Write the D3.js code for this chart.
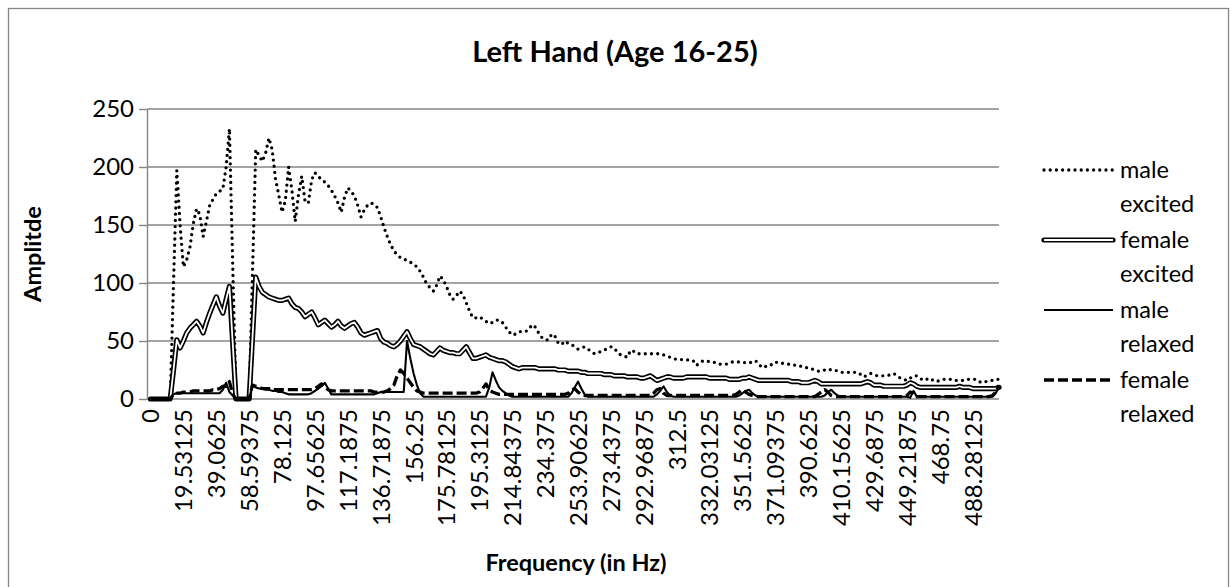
<!DOCTYPE html>
<html>
<head>
<meta charset="utf-8">
<script src="https://cdn.jsdelivr.net/npm/d3@7"></script>
<style>
  body { margin: 0; background: #fff; }
  svg text { font-family: Lato, "Open Sans", sans-serif; fill: #000; }
</style>
</head>
<body>
<svg id="chart" width="1231" height="587"></svg>
<script>
// frequency bins, 1.953125 Hz apart, one value per bin
const binHz = 1.953125;

const maleExcited = [
  0, 0, 0, 0, 0, 0, 0, 100, 197, 150,
  114, 120, 131, 151, 164, 159, 140, 153, 167, 172,
  177, 179, 181, 200, 233, 116, 0, 0, 0, 0,
  0, 107, 215, 210, 205, 212, 225, 215, 190, 176,
  161, 171, 200, 180, 153, 176, 192, 170, 169, 189,
  195, 192, 189, 187, 184, 180, 175, 169, 161, 174,
  182, 179, 175, 167, 157, 163, 167, 169, 168, 165,
  157, 148, 140, 133, 128, 124, 122, 121, 119, 118,
  116, 114, 110, 105, 99, 96, 93, 98, 106, 103,
  97, 90, 86, 89, 93, 90, 83, 76, 70, 70,
  71, 69, 67, 65, 66, 68, 68, 66, 62, 58,
  55, 56, 58, 58, 58, 60, 64, 62, 57, 53,
  51, 51, 56, 54, 48, 47, 50, 48, 47, 45,
  43, 44, 45, 43, 41, 39, 40, 41, 42, 44,
  45, 44, 40, 38, 37, 36, 42, 41, 39, 39,
  39, 39, 39, 39, 39, 39, 38, 37, 36, 35,
  34, 34, 34, 34, 33, 33, 29, 31, 33, 33,
  32, 32, 31, 30, 30, 30, 31, 32, 32, 32,
  32, 31, 31, 32, 33, 30, 27, 28, 28, 30,
  32, 31, 31, 30, 30, 30, 29, 29, 28, 27,
  27, 26, 25, 24, 24, 25, 26, 25, 25, 24,
  23, 23, 23, 23, 23, 23, 21, 19, 21, 22,
  21, 20, 20, 20, 20, 21, 22, 20, 18, 17,
  16, 18, 20, 20, 18, 16, 17, 18, 16, 15,
  16, 17, 17, 17, 17, 16, 16, 16, 17, 17,
  17, 17, 15, 14, 15, 16, 16, 17, 17
];

const femaleExcited = [
  0, 0, 0, 0, 0, 0, 0, 25, 51, 44,
  50, 57, 61, 64, 67, 63, 57, 66, 74, 81,
  88, 80, 74, 86, 97, 48, 0, 0, 0, 0,
  0, 52, 105, 97, 92, 90, 88, 87, 86, 85,
  85, 86, 87, 82, 79, 78, 75, 71, 73, 75,
  70, 64, 66, 68, 65, 62, 64, 67, 63, 61,
  63, 65, 66, 62, 57, 55, 56, 57, 58, 59,
  52, 49, 48, 46, 45, 47, 50, 54, 58, 52,
  47, 46, 45, 43, 41, 39, 38, 41, 44, 42,
  41, 40, 40, 39, 39, 42, 45, 40, 35, 35,
  36, 37, 38, 36, 35, 34, 33, 33, 32, 30,
  28, 27, 26, 27, 27, 27, 27, 27, 26, 26,
  26, 26, 26, 26, 25, 25, 25, 24, 24, 24,
  24, 23, 23, 22, 22, 22, 22, 22, 21, 21,
  21, 20, 20, 20, 20, 19, 19, 19, 19, 18,
  18, 19, 20, 18, 16, 17, 18, 19, 19, 18,
  18, 18, 18, 19, 19, 19, 19, 19, 19, 19,
  18, 18, 18, 18, 18, 18, 17, 17, 17, 17,
  18, 18, 19, 18, 17, 16, 16, 16, 16, 16,
  16, 16, 16, 16, 16, 15, 15, 15, 14, 14,
  14, 15, 16, 15, 13, 13, 13, 13, 13, 13,
  13, 13, 13, 13, 13, 13, 13, 14, 15, 14,
  12, 12, 12, 11, 11, 11, 11, 11, 11, 11,
  12, 14, 13, 11, 10, 10, 10, 10, 10, 10,
  10, 10, 10, 10, 10, 10, 11, 10, 10, 10,
  9, 9, 9, 9, 9, 9, 9, 9, 10
];

const maleRelaxed = [
  0, 0, 0, 0, 0, 0, 0, 4, 5, 5,
  5, 5, 5, 5, 5, 5, 5, 5, 5, 5,
  5, 5, 8, 14, 6, 3, 0, 0, 0, 0,
  0, 12, 10, 9, 9, 8, 8, 7, 7, 6,
  6, 5, 4, 4, 4, 4, 4, 4, 4, 5,
  7, 9, 11, 14, 9, 4, 4, 4, 4, 4,
  4, 4, 4, 4, 4, 4, 4, 4, 4, 5,
  6, 6, 6, 6, 6, 6, 6, 6, 50, 35,
  22, 12, 5, 2, 2, 2, 2, 2, 2, 2,
  2, 2, 2, 2, 2, 2, 2, 2, 2, 2,
  2, 2, 2, 10, 23, 16, 10, 7, 5, 3,
  2, 2, 2, 2, 2, 2, 2, 2, 2, 2,
  2, 2, 2, 2, 2, 2, 2, 2, 5, 10,
  15, 9, 4, 2, 2, 2, 2, 2, 2, 2,
  2, 2, 2, 2, 2, 2, 2, 2, 2, 2,
  2, 2, 2, 2, 4, 7, 11, 6, 3, 2,
  2, 2, 2, 2, 2, 2, 2, 2, 2, 2,
  2, 2, 2, 2, 2, 2, 2, 2, 2, 3,
  5, 7, 8, 5, 3, 2, 2, 2, 2, 2,
  2, 2, 2, 2, 2, 2, 2, 2, 2, 2,
  2, 2, 2, 2, 2, 3, 6, 8, 5, 3,
  2, 2, 2, 2, 2, 2, 2, 2, 2, 2,
  2, 2, 2, 2, 2, 2, 2, 2, 2, 2,
  2, 1, 7, 2, 2, 2, 2, 2, 2, 2,
  2, 2, 2, 2, 2, 2, 2, 2, 2, 2,
  2, 2, 2, 2, 2, 2, 2, 5, 10
];

const femaleRelaxed = [
  0, 0, 0, 0, 0, 0, 0, 4, 5, 5,
  6, 6, 6, 7, 7, 7, 7, 7, 7, 8,
  8, 9, 11, 11, 15, 4, 0, 0, 0, 0,
  0, 12, 11, 10, 9, 9, 9, 8, 8, 8,
  8, 8, 8, 8, 8, 8, 8, 8, 8, 8,
  9, 11, 13, 10, 8, 7, 7, 7, 7, 7,
  7, 7, 7, 7, 7, 7, 7, 7, 6, 6,
  6, 6, 7, 9, 12, 20, 25, 22, 18, 14,
  10, 7, 6, 5, 5, 5, 5, 5, 5, 5,
  5, 5, 5, 5, 5, 5, 5, 5, 5, 5,
  6, 9, 13, 8, 6, 5, 4, 4, 4, 4,
  4, 4, 4, 4, 4, 4, 4, 4, 4, 4,
  4, 4, 4, 4, 4, 4, 4, 5, 8, 9,
  6, 4, 3, 3, 3, 3, 3, 3, 3, 3,
  3, 3, 3, 3, 3, 3, 3, 3, 3, 3,
  3, 3, 3, 5, 8, 9, 5, 3, 3, 3,
  3, 3, 3, 3, 3, 3, 3, 3, 3, 3,
  3, 3, 3, 3, 3, 3, 3, 3, 4, 6,
  8, 6, 4, 3, 2, 2, 2, 2, 2, 2,
  2, 2, 2, 2, 2, 2, 2, 2, 2, 2,
  2, 2, 2, 4, 6, 8, 6, 3, 2, 2,
  2, 2, 2, 2, 2, 2, 2, 2, 2, 2,
  2, 2, 2, 2, 2, 2, 2, 2, 2, 2,
  3, 6, 5, 2, 2, 2, 2, 2, 2, 2,
  2, 2, 2, 2, 2, 2, 2, 2, 2, 2,
  2, 2, 2, 2, 2, 2, 3, 6, 12
];

const xTickLabels = [
  "0", "19.53125", "39.0625", "58.59375", "78.125", "97.65625", "117.1875",
  "136.71875", "156.25", "175.78125", "195.3125", "214.84375", "234.375",
  "253.90625", "273.4375", "292.96875", "312.5", "332.03125", "351.5625",
  "371.09375", "390.625", "410.15625", "429.6875", "449.21875", "468.75",
  "488.28125"
];
const yTicks = [0, 50, 100, 150, 200, 250];
const seriesLabels = [["male", "excited"], ["female", "excited"], ["male", "relaxed"], ["female", "relaxed"]];

const gridColor = "#868686";
const plot = { left: 147, right: 999, top: 109, bottom: 399 };

const svg = d3.select("#chart");

// outer chart border
svg.append("rect")
  .attr("x", 8.5).attr("y", 8.5)
  .attr("width", 1220).attr("height", 600)
  .attr("fill", "none")
  .attr("stroke", gridColor)
  .attr("stroke-width", 1.3);

const categories = d3.range(maleExcited.length);
const x = d3.scalePoint().domain(categories).range([150.5, plot.right]);
const y = d3.scaleLinear().domain([0, 250]).range([plot.bottom, plot.top]);

// gridlines
svg.selectAll(".grid")
  .data(yTicks)
  .join("line")
  .attr("class", "grid")
  .attr("x1", plot.left)
  .attr("x2", plot.right)
  .attr("y1", (d) => y(d))
  .attr("y2", (d) => y(d))
  .attr("stroke", gridColor)
  .attr("stroke-width", 1.4);

// y axis
const yAxis = svg.append("g")
  .attr("transform", `translate(${plot.left},0)`)
  .call(d3.axisLeft(y).tickValues(yTicks).tickSizeInner(8).tickSizeOuter(0).tickPadding(5));
yAxis.select(".domain").attr("stroke", gridColor).attr("stroke-width", 1.4);
yAxis.selectAll(".tick line").attr("stroke", gridColor).attr("stroke-width", 1.4);
yAxis.selectAll(".tick text")
  .style("font-size", "24px")
  .style("font-family", "Lato, sans-serif")
  .attr("fill", "#000");

// x axis labels, every 10th bin
const xAxis = svg.append("g")
  .attr("transform", `translate(0,${plot.bottom})`)
  .call(d3.axisBottom(x)
    .tickValues(categories.filter((i) => i % 10 === 0))
    .tickFormat((i) => xTickLabels[i / 10])
    .tickSize(0));
xAxis.select(".domain").remove();
xAxis.selectAll(".tick text")
  .style("font-size", "24px")
  .style("font-family", "Lato, sans-serif")
  .attr("fill", "#000")
  .attr("text-anchor", "end")
  .attr("transform", "rotate(-90)")
  .attr("x", -10)
  .attr("y", 0)
  .attr("dy", "0.35em");

const line = d3.line()
  .x((d, i) => x(i))
  .y((d) => y(d));

const drawSeries = (values, style) => {
  const p = svg.append("path")
    .datum(values)
    .attr("d", line)
    .attr("fill", "none")
    .attr("stroke", "#000")
    .attr("stroke-linejoin", "round")
    .attr("stroke-width", style.width)
    .attr("stroke-linecap", style.cap || "butt");
  if (style.dash) p.attr("stroke-dasharray", style.dash);
  if (style.inner) {
    svg.append("path")
      .datum(values)
      .attr("d", line)
      .attr("fill", "none")
      .attr("stroke", "#fff")
      .attr("stroke-linejoin", "round")
      .attr("stroke-width", style.inner);
  }
};

const styles = [
  { width: 3.3, dash: "0 6.2", cap: "round" },
  { width: 5.2, inner: 1.8, cap: "round" },
  { width: 2.1 },
  { width: 3.3, dash: "10 4" }
];

drawSeries(maleExcited, styles[0]);
drawSeries(femaleExcited, styles[1]);
drawSeries(maleRelaxed, styles[2]);
drawSeries(femaleRelaxed, styles[3]);

// legend
const legend = svg.append("g");
seriesLabels.forEach((lines, k) => {
  const cy = 170 + k * 70;
  const sample = [[1044, cy], [1113, cy]];
  const st = styles[k];
  const l = legend.append("path")
    .attr("d", d3.line()(sample))
    .attr("stroke", "#000")
    .attr("stroke-width", st.width)
    .attr("stroke-linecap", st.cap || "butt")
    .attr("fill", "none");
  if (st.dash) l.attr("stroke-dasharray", st.dash);
  if (st.inner) {
    legend.append("path")
      .attr("d", d3.line()(sample))
      .attr("stroke", "#fff")
      .attr("stroke-width", st.inner)
      .attr("fill", "none");
  }
  lines.forEach((t, j) => {
    legend.append("text")
      .attr("x", 1120)
      .attr("y", cy + j * 34)
      .attr("dy", "0.35em")
      .style("font-size", "23.5px")
      .text(t);
  });
});

// titles
svg.append("text")
  .attr("x", 615)
  .attr("y", 52)
  .attr("dy", "0.35em")
  .attr("text-anchor", "middle")
  .style("font-size", "29px")
  .style("font-weight", "bold")
  .text("Left Hand (Age 16-25)");

svg.append("text")
  .attr("x", 576)
  .attr("y", 563)
  .attr("dy", "0.35em")
  .attr("text-anchor", "middle")
  .style("font-size", "23.5px")
  .style("font-weight", "bold")
  .text("Frequency (in Hz)");

svg.append("text")
  .attr("transform", "translate(33,254) rotate(-90)")
  .attr("dy", "0.35em")
  .attr("text-anchor", "middle")
  .style("font-size", "23.5px")
  .style("font-weight", "bold")
  .text("Amplitde");
</script>
</body>
</html>
